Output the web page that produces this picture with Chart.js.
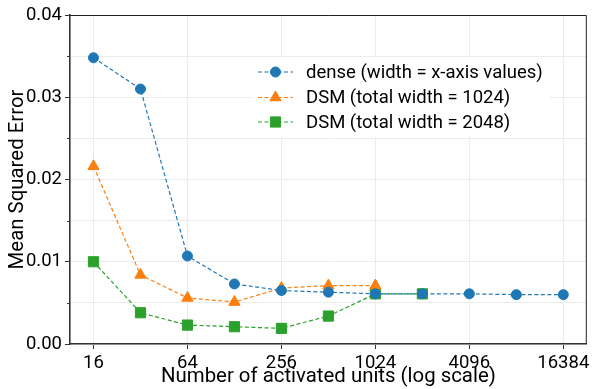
<!DOCTYPE html>
<html><head><meta charset="utf-8">
<script src="https://cdn.jsdelivr.net/npm/chart.js@4/dist/chart.umd.min.js"></script>
<style>html,body{margin:0;padding:0;background:#fff}canvas{display:block}</style>
</head><body>
<canvas id="c" width="595" height="389"></canvas>
<script>
// ---- data ----
const unitsDense = [16, 32, 64, 128, 256, 512, 1024, 2048, 4096, 8192, 16384];
const mseDense   = [0.0348, 0.0310, 0.0107, 0.0073, 0.0065, 0.0063, 0.0061, 0.0061, 0.0061, 0.0060, 0.0060];
const unitsDSM1024 = [16, 32, 64, 128, 256, 512, 1024];
const mseDSM1024   = [0.0216, 0.0084, 0.0056, 0.0051, 0.0068, 0.0071, 0.0071];
const unitsDSM2048 = [16, 32, 64, 128, 256, 512, 1024, 2048];
const mseDSM2048   = [0.0100, 0.0038, 0.0023, 0.0021, 0.0019, 0.0034, 0.0061, 0.0061];
const seriesLabels = ['dense (width = x-axis values)', 'DSM (total width = 1024)', 'DSM (total width = 2048)'];
const xTickValues = [16, 64, 256, 1024, 4096, 16384];
const yTickValues = [0, 0.005, 0.01, 0.015, 0.02, 0.025, 0.03, 0.035, 0.04];
const yTickLabels = {0: '0.00', 0.01: '0.01', 0.02: '0.02', 0.03: '0.03', 0.04: '0.04'};
const xTitle = 'Number of activated units (log scale)';
const yTitle = 'Mean Squared Error';

const FONT = 'Roboto';
const zip = (xs, ys) => xs.map((x, i) => ({x: x, y: ys[i]}));
const styles = [
  {color: '#1f77b4', pointStyle: 'circle', radius: 5},
  {color: '#ff7f0e', pointStyle: 'triangle', radius: 6.5},
  {color: '#2ca02c', pointStyle: 'rect', radius: 7.2}
];
const dataSets = [zip(unitsDense, mseDense), zip(unitsDSM1024, mseDSM1024), zip(unitsDSM2048, mseDSM2048)];
const datasets = dataSets.map((d, i) => ({
  label: seriesLabels[i],
  data: d,
  borderColor: styles[i].color,
  backgroundColor: styles[i].color,
  borderWidth: 1.2,
  borderDash: [4, 2.5],
  pointStyle: styles[i].pointStyle,
  pointRadius: styles[i].radius,
  pointHoverRadius: styles[i].radius,
  pointBorderWidth: 1,
  pointBorderColor: styles[i].color,
  pointBackgroundColor: styles[i].color,
  tension: 0,
  fill: false
}));

const isMajorY = v => Math.abs(v * 100 - Math.round(v * 100)) < 1e-6;

const decor = {
  id: 'decor',
  afterDraw(chart) {
    const ctx = chart.ctx, a = chart.chartArea, y = chart.scales.y;
    ctx.save();
    // top / right spines
    ctx.strokeStyle = '#222'; ctx.lineWidth = 1;
    ctx.beginPath();
    ctx.moveTo(a.left, a.top + 0.5); ctx.lineTo(a.right - 0.5, a.top + 0.5); ctx.lineTo(a.right - 0.5, a.bottom);
    ctx.stroke();
    // minor y ticks
    ctx.strokeStyle = '#333'; ctx.lineWidth = 1;
    yTickValues.filter(v => !isMajorY(v)).forEach(v => {
      const py = Math.round(y.getPixelForValue(v)) + 0.5;
      ctx.beginPath(); ctx.moveTo(a.left - 3, py); ctx.lineTo(a.left, py); ctx.stroke();
    });
    // legend
    const lx = 258, rows = [72, 97.5, 122];
    ctx.fillStyle = '#fff';
    ctx.fillRect(252, 57, 298, 80);
    chart.data.datasets.forEach((ds, i) => {
      const ry = rows[i];
      ctx.save();
      ctx.strokeStyle = ds.borderColor; ctx.lineWidth = ds.borderWidth;
      ctx.setLineDash(ds.borderDash);
      ctx.beginPath(); ctx.moveTo(lx, ry); ctx.lineTo(lx + 35, ry); ctx.stroke();
      ctx.restore();
      ctx.fillStyle = ds.pointBackgroundColor; ctx.strokeStyle = ds.pointBorderColor; ctx.lineWidth = 1;
      Chart.helpers.drawPoint(ctx, {pointStyle: ds.pointStyle, radius: ds.pointRadius, borderWidth: 1, rotation: 0}, lx + 17.5, ry);
      ctx.fillStyle = '#000';
      ctx.font = '18.5px ' + FONT;
      ctx.textBaseline = 'middle'; ctx.textAlign = 'left';
      ctx.fillText(ds.label, lx + 48, ry + 1);
    });
    ctx.restore();
  }
};

new Chart(document.getElementById('c'), {
  type: 'line',
  data: {datasets: datasets},
  options: {
    responsive: false,
    animation: false,
    layout: {padding: {top: 15, right: 4, left: 0, bottom: 0}},
    plugins: {legend: {display: false}, tooltip: {enabled: false}},
    scales: {
      x: {
        type: 'logarithmic',
        min: 16 / Math.SQRT2,
        max: 16384 * Math.SQRT2,
        afterBuildTicks: s => { s.ticks = xTickValues.map(v => ({value: v})); },
        afterFit: s => { s.height = 45; },
        ticks: {
          callback: v => String(v),
          autoSkip: false, maxRotation: 0, minRotation: 0,
          color: '#000', font: {family: FONT, size: 18.5}, padding: 3
        },
        grid: {color: '#ebebeb', lineWidth: 1, tickLength: 5, tickColor: '#333', tickWidth: 1},
        border: {display: true, color: '#333', width: 1.6},
        title: {display: true, text: xTitle, color: '#000', font: {family: FONT, size: 20.4}, padding: {top: -2, bottom: 0}}
      },
      y: {
        type: 'linear',
        min: 0, max: 0.04,
        afterBuildTicks: s => { s.ticks = yTickValues.map(v => ({value: v})); },
        afterFit: s => { s.width = 70; },
        ticks: {
          callback: v => { for (const k in yTickLabels) { if (Math.abs(+k - v) < 1e-9) return yTickLabels[k]; } return ''; },
          autoSkip: false,
          color: '#000', font: {family: FONT, size: 18.5}, padding: 3
        },
        grid: {
          color: '#ebebeb', lineWidth: 1, tickLength: 5, tickWidth: 1,
          tickColor: c => (c.tick && isMajorY(c.tick.value)) ? '#333' : 'rgba(0,0,0,0)'
        },
        border: {display: true, color: '#333', width: 1.6},
        title: {display: true, text: yTitle, color: '#000', font: {family: FONT, size: 20.4}, padding: {top: 6, bottom: 0}}
      }
    }
  },
  plugins: [decor]
});
</script>
</body></html>
